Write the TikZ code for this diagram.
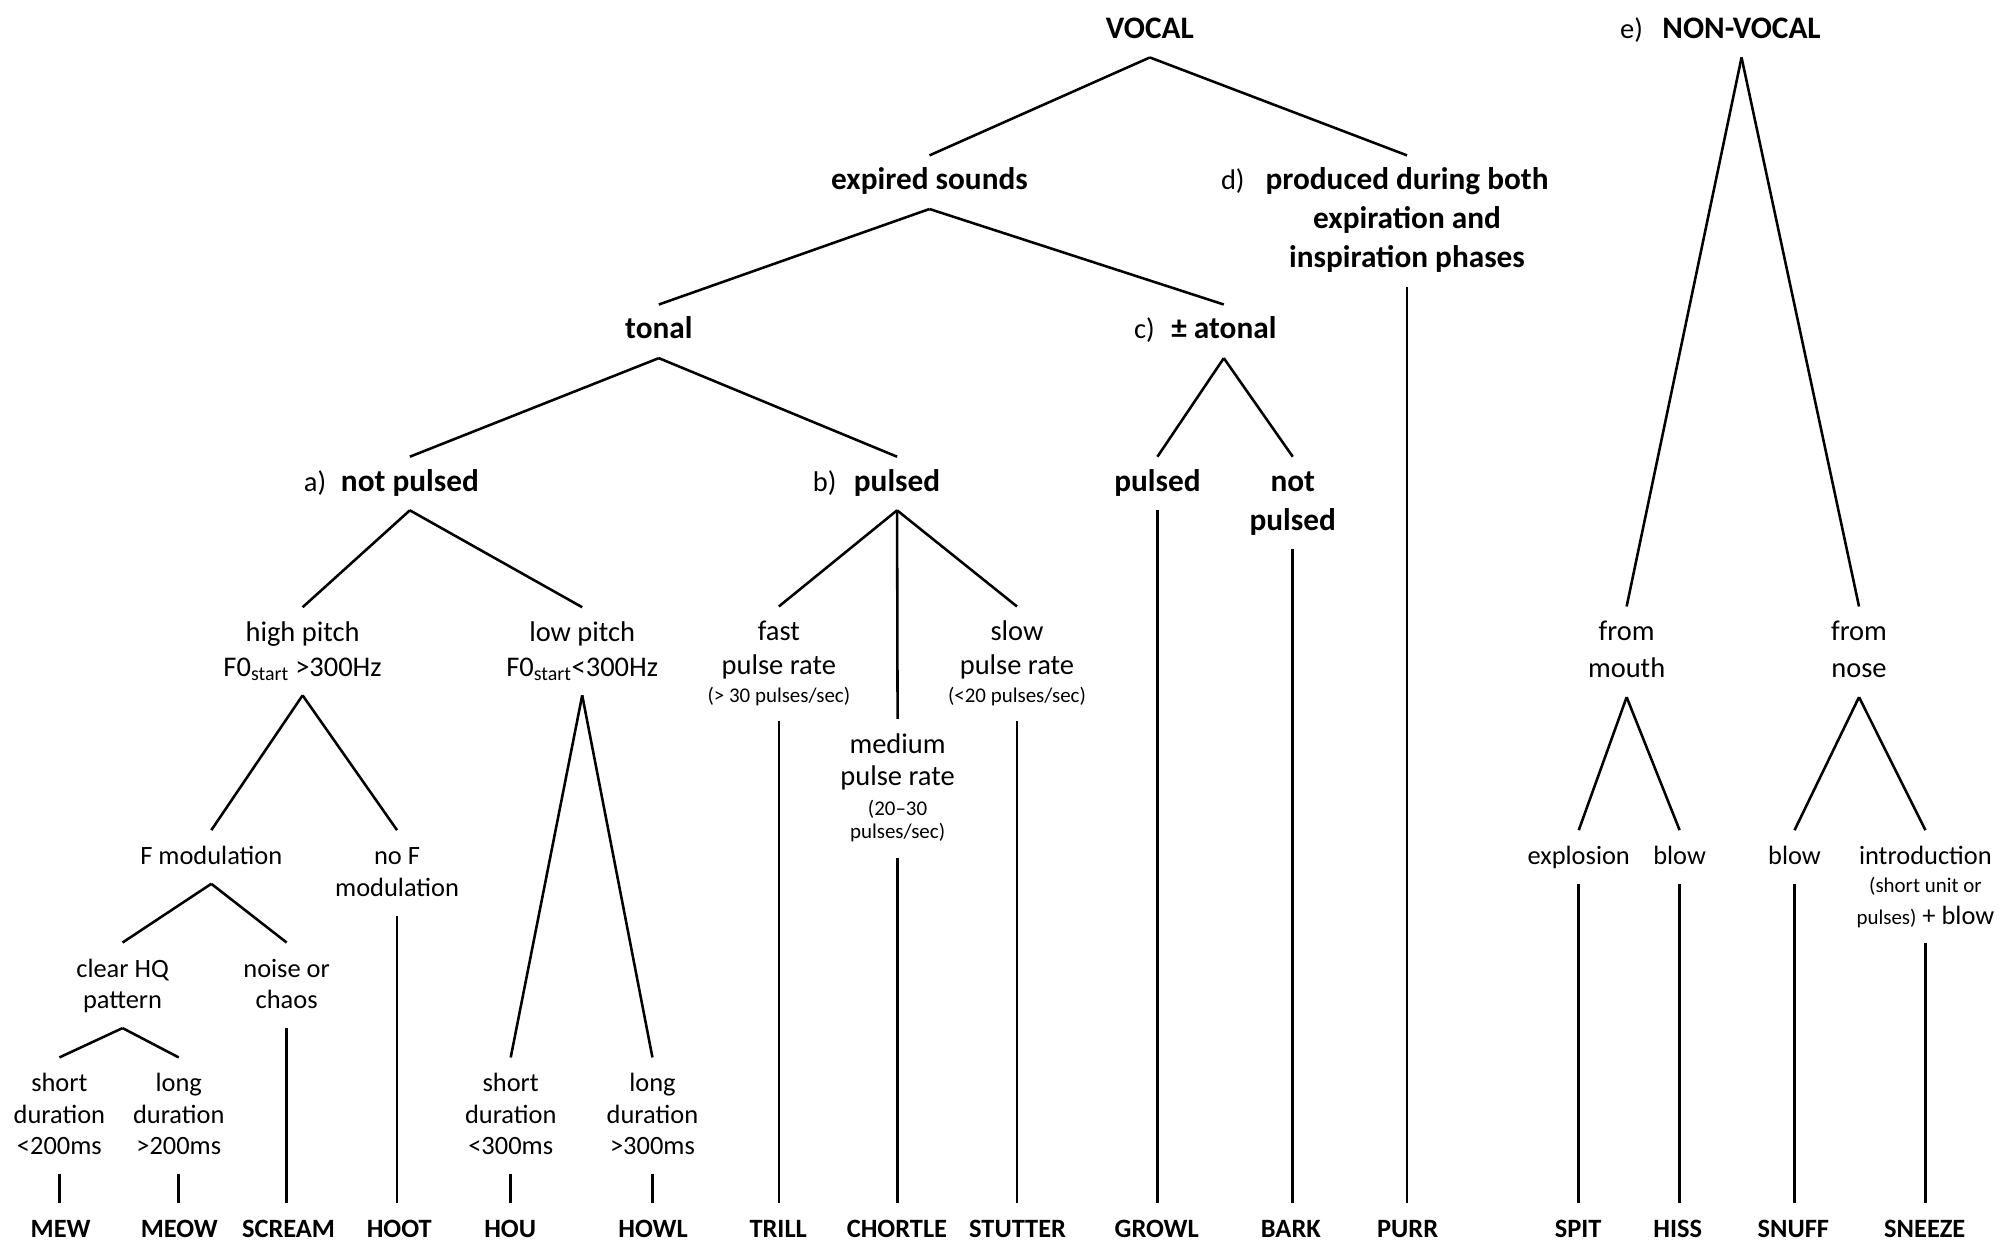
\documentclass[tikz,border=0pt]{standalone}
\usepackage{fontspec}
\setmainfont{Carlito}
\newcommand\ftop{\rule{0pt}{19pt}}
\newcommand\fbot{\rule[-7pt]{0pt}{7pt}}
\newcommand\smtxt[1]{{\fontsize{16.4}{18}\selectfont #1}}
\begin{document}
\begin{tikzpicture}[x=1pt,y=-1pt,
  txt/.style={inner sep=0pt, outer xsep=0pt, outer ysep=8pt, align=center, anchor=north},
  big/.style={txt, font=\fontsize{22.3}{27}\selectfont},
  reg/.style={txt, font=\fontsize{20.7}{24.5}\selectfont},
  bld/.style={txt, font=\fontsize{24.5}{30.5}\selectfont\bfseries},
  leaf/.style={txt, font=\fontsize{20.7}{25}\selectfont\bfseries},
  lab/.style={inner sep=0pt, anchor=base east, font=\fontsize{22.3}{27}\selectfont},
  conn/.style={line width=2pt}]
\fill[white] (0,0) rectangle (1568,973.55);
\useasboundingbox (0,0) rectangle (1568,973.55);

% top levels
\node[bld] (vocal) at (900.6,3) {\ftop VOCAL\fbot};
\node[lab] (elab) at (1287,30) {e)};
\node[bld] (nonvocal) at (1364,3) {\ftop NON-VOCAL\fbot};
\node[bld] (expired) at (728,121.7) {\ftop expired sounds\fbot};
\node[bld] (prod) at (1102,121.7) {\ftop produced during both\\expiration and\\inspiration phases\fbot};
\node[lab] (dlab) at (975,148.7) {d)};
\node[bld] (tonal) at (516,238.5) {\ftop tonal\fbot};
\node[bld] (atonal) at (958.5,238.5) {\ftop ± atonal\fbot};
\node[lab] (clab) at (904.6,265.5) {c)};
\node[bld] (notpulsed) at (321,357.7) {\ftop not pulsed\fbot};
\node[lab] (alab) at (255.7,384.7) {a)};
\node[bld] (pulsedb) at (702.6,357.7) {\ftop pulsed\fbot};
\node[lab] (blab) at (655.3,384.7) {b)};
\node[bld] (pulsedc) at (906.5,357.7) {\ftop pulsed\fbot};
\node[bld] (notpulsedc) at (1012.5,357.7) {\ftop not\\pulsed\fbot};

% second level
\node[big] (high) at (237,475.6) {\ftop high pitch\\F0\textsubscript{start} >300Hz\fbot};
\node[big] (low) at (456,475.6) {\ftop low pitch\\F0\textsubscript{start}<300Hz\fbot};
\node[big] (fast) at (610,475) {\ftop fast\\[-1pt]pulse rate\\[-5pt]\smtxt{(> 30 pulses/sec)}\fbot};
\node[big] (slow) at (796.5,475) {\ftop slow\\[-1pt]pulse rate\\[-5pt]\smtxt{(<20 pulses/sec)}\fbot};
\node[big] (medium) at (703,563) {\ftop medium\\[-1.4pt]pulse rate\\[-4pt]\smtxt{(20–30}\\[-8.6pt]\smtxt{pulses/sec)}\fbot};
\node[big] (mouth) at (1274,475) {\ftop from\\[2pt]mouth\fbot};
\node[big] (nose) at (1456,475) {\ftop from\\[2pt]nose\fbot};

% third level
\node[reg] (fmod) at (165.5,650.2) {\ftop F modulation\fbot};
\node[reg] (nofmod) at (311,650.2) {\ftop no F\\[0.5pt]modulation\fbot};
\node[reg] (clearhq) at (96,738.2) {\ftop clear HQ\\[0.5pt]pattern\fbot};
\node[reg] (noise) at (224.5,738.2) {\ftop noise or\\[0.5pt]chaos\fbot};
\node[reg] (short200) at (46.5,828.2) {\ftop short\\duration\\<200ms\fbot};
\node[reg] (long200) at (140,828.2) {\ftop long\\duration\\>200ms\fbot};
\node[reg] (short300) at (400,828.2) {\ftop short\\duration\\<300ms\fbot};
\node[reg] (long300) at (511,828.2) {\ftop long\\duration\\>300ms\fbot};
\node[reg] (explosion) at (1236.5,650.2) {\ftop explosion\fbot};
\node[reg] (blowm) at (1315.5,650.2) {\ftop blow\fbot};
\node[reg] (blown) at (1405.5,650.2) {\ftop blow\fbot};
\node[reg] (intro) at (1508,650.2) {\ftop introduction\\[-3pt]\smtxt{(short unit or}\\[0.5pt]\smtxt{pulses)} + blow\fbot};

% leaves
\node[leaf] (mew) at (47.5,942.3) {\ftop MEW\fbot};
\node[leaf] (meow) at (140.5,942.3) {\ftop MEOW\fbot};
\node[leaf] (scream) at (226,942.3) {\ftop SCREAM\fbot};
\node[leaf] (hoot) at (312.7,942.3) {\ftop HOOT\fbot};
\node[leaf] (hou) at (399.6,942.3) {\ftop HOU\fbot};
\node[leaf] (howl) at (511.5,942.3) {\ftop HOWL\fbot};
\node[leaf] (trill) at (609.5,942.3) {\ftop TRILL\fbot};
\node[leaf] (chortle) at (702.5,942.3) {\ftop CHORTLE\fbot};
\node[leaf] (stutter) at (797,942.3) {\ftop STUTTER\fbot};
\node[leaf] (growl) at (906,942.3) {\ftop GROWL\fbot};
\node[leaf] (bark) at (1011,942.3) {\ftop BARK\fbot};
\node[leaf] (purr) at (1102.5,942.3) {\ftop PURR\fbot};
\node[leaf] (spit) at (1236,942.3) {\ftop SPIT\fbot};
\node[leaf] (hiss) at (1314,942.3) {\ftop HISS\fbot};
\node[leaf] (snuff) at (1404.6,942.3) {\ftop SNUFF\fbot};
\node[leaf] (sneeze) at (1507.5,942.3) {\ftop SNEEZE\fbot};

% connectors
\draw[conn] (vocal.south) -- (expired.north);
\draw[conn] (vocal.south) -- (prod.north);
\draw[conn] (expired.south) -- (tonal.north);
\draw[conn] (expired.south) -- (atonal.north);
\draw[conn] (tonal.south) -- (notpulsed.north);
\draw[conn] (tonal.south) -- (pulsedb.north);
\draw[conn] (atonal.south) -- (pulsedc.north);
\draw[conn] (atonal.south) -- (notpulsedc.north);
\draw[conn] (notpulsed.south) -- (high.north);
\draw[conn] (notpulsed.south) -- (low.north);
\draw[conn] (pulsedb.south) -- (fast.north);
\draw[conn] (pulsedb.south) -- (medium.north);
\draw[conn] (pulsedb.south) -- (slow.north);
\draw[conn] (high.south) -- (fmod.north);
\draw[conn] (high.south) -- (nofmod.north);
\draw[conn] (low.south) -- (short300.north);
\draw[conn] (low.south) -- (long300.north);
\draw[conn] (fmod.south) -- (clearhq.north);
\draw[conn] (fmod.south) -- (noise.north);
\draw[conn] (clearhq.south) -- (short200.north);
\draw[conn] (clearhq.south) -- (long200.north);
\draw[conn] (nonvocal.south) -- (mouth.north);
\draw[conn] (nonvocal.south) -- (nose.north);
\draw[conn] (mouth.south) -- (explosion.north);
\draw[conn] (mouth.south) -- (blowm.north);
\draw[conn] (nose.south) -- (blown.north);
\draw[conn] (nose.south) -- (intro.north);
\foreach \p/\l in {short200/mew, long200/meow, noise/scream, nofmod/hoot,
  short300/hou, long300/howl, fast/trill, medium/chortle, slow/stutter,
  pulsedc/growl, notpulsedc/bark, prod/purr, explosion/spit, blowm/hiss,
  blown/snuff, intro/sneeze}
  \draw[conn] (\p.south) -- (\p.south |- \l.north);
\end{tikzpicture}
\end{document}
